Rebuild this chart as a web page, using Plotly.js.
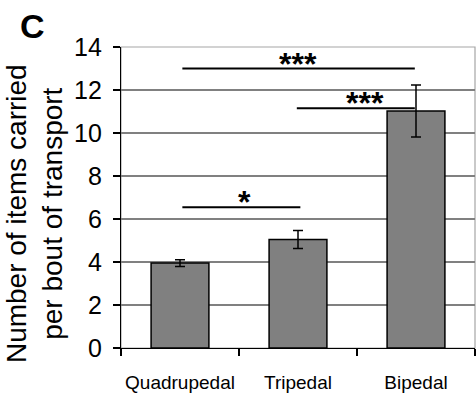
<!DOCTYPE html>
<html>
<head>
<meta charset="utf-8">
<script src="https://cdn.plot.ly/plotly-3.0.1.min.js"></script>
<style>html,body{margin:0;padding:0;background:#fff;}#chart{width:476px;height:394px;}</style>
</head>
<body>
<div id="chart"></div>
<script>
// Data
const categories = ["Quadrupedal", "Tripedal", "Bipedal"];
const meanItems = [3.95, 5.05, 11.02];
const errItems = [0.16, 0.42, 1.21];
const yTickVals = [0, 2, 4, 6, 8, 10, 12, 14];
const yTitleText = "Number of items carried<br>per bout of transport";
// significance brackets
const sigFrom = [0, 1, 0];
const sigTo = [2, 2, 1];
const sigLevel = [13.0, 11.15, 6.55];
const sigLabel = ["***", "***", "*"];

const FONT = "Liberation Sans, Arial, sans-serif";

const trace = {
  type: "bar",
  x: categories,
  y: meanItems,
  marker: {color: "#808080", line: {color: "#000", width: 1.5}},
  error_y: {type: "data", array: errItems, visible: true, color: "#000", thickness: 1.5, width: 5},
  hoverinfo: "skip"
};

const shapes = [
  {type: "rect", xref: "paper", yref: "paper", x0: 0, x1: 1, y0: 0, y1: 1,
   line: {color: "#a6a6a6", width: 1.2}, layer: "below"}
];
const annotations = [
  {xref: "paper", yref: "paper", x: -0.25, y: 1.0, xanchor: "center", yanchor: "bottom",
   text: "<b>C</b>", showarrow: false, font: {family: FONT, size: 34, color: "#000"}},
  {xref: "paper", yref: "paper", x: -0.246, y: 0.448, xanchor: "center", yanchor: "middle",
   textangle: -90, align: "center", text: yTitleText, showarrow: false,
   font: {family: FONT, size: 28, color: "#000"}}
];
// y tick labels placed through the y axis scale
yTickVals.forEach(v => annotations.push({
  xref: "paper", yref: "y", x: -0.049, y: v, xanchor: "right", yanchor: "middle",
  text: String(v), showarrow: false, font: {family: FONT, size: 25, color: "#000"}
}));
const labelX = [1.0, 1.57, 0.55];
for (let i = 0; i < sigLevel.length; i++) {
  const a = sigFrom[i] + (sigFrom[i] === 0 ? 0.02 : -0.01);
  const b = sigTo[i] + (sigTo[i] === 2 ? -0.01 : 0.02);
  shapes.push({type: "line", xref: "x", yref: "y", x0: a, x1: b, y0: sigLevel[i], y1: sigLevel[i],
    line: {color: "#000", width: 2}});
  annotations.push({xref: "x", yref: "y", x: labelX[i], y: sigLevel[i], yshift: 5,
    xanchor: "center", yanchor: "middle", text: sigLabel[i], showarrow: false,
    font: {family: FONT, size: 32, color: "#000", weight: "bold"}});
}

const layout = {
  width: 476, height: 394,
  margin: {l: 121, r: 1, t: 47, b: 46, pad: 0},
  paper_bgcolor: "#fff", plot_bgcolor: "#fff",
  showlegend: false,
  bargap: 0.51,
  font: {family: FONT, color: "#000"},
  xaxis: {
    type: "category", showgrid: false, zeroline: false,
    showline: true, linecolor: "#000", linewidth: 1.2,
    ticks: "outside", tickson: "boundaries", ticklen: 7, tickcolor: "#000", tickwidth: 1.2,
    tickangle: 0,
    tickfont: {family: FONT, size: 19, color: "#000"},
    ticklabelstandoff: 17
  },
  yaxis: {
    range: [0, 14], tickvals: yTickVals, showticklabels: false,
    showgrid: true, gridcolor: "#808080", gridwidth: 1.2,
    zeroline: false, showline: true, linecolor: "#000", linewidth: 1.2,
    ticks: "outside", ticklen: 7, tickcolor: "#000", tickwidth: 1.2
  },
  shapes: shapes,
  annotations: annotations
};

Plotly.newPlot("chart", [trace], layout, {staticPlot: true, displayModeBar: false});
</script>
</body>
</html>
